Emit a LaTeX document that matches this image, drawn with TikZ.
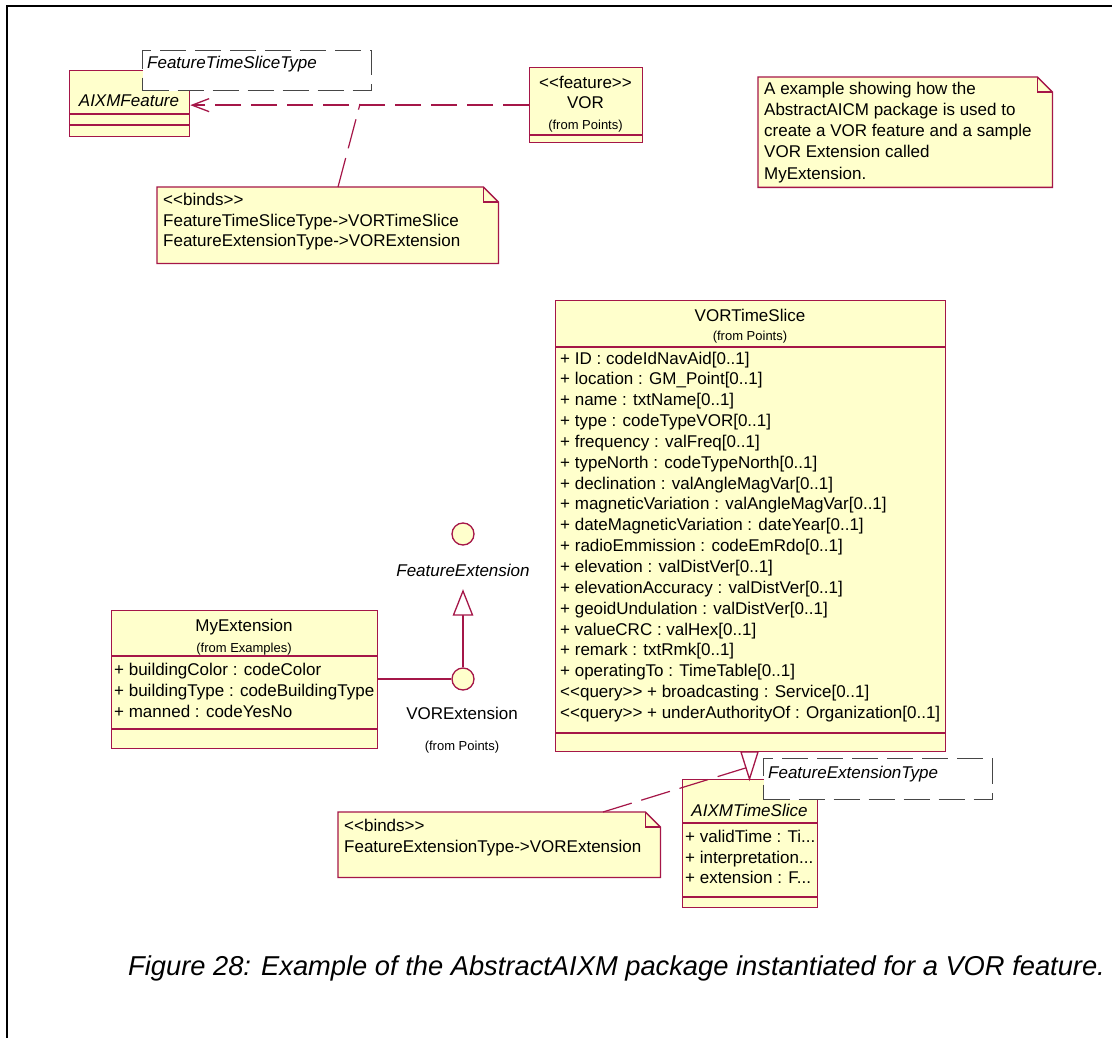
\documentclass[tikz,border=0pt]{standalone}
\usepackage{fontspec}
\newfontfamily\umlfont{Liberation Sans}
\usetikzlibrary{arrows.meta}
\definecolor{umlline}{RGB}{165,22,72}
\definecolor{umlfill}{RGB}{255,255,204}
\definecolor{tmplline}{RGB}{70,70,70}

\tikzset{
  outline/.style={draw=umlline, line width=1.3pt},
  classbox/.style={outline, fill=umlfill, inner sep=0pt, anchor=north west},
  tmplbox/.style={draw=tmplline, fill=white, line width=1.3pt, dash pattern=on 26pt off 9pt, inner sep=0pt, anchor=north west},
  lbl/.style={font=\umlfont\fontsize{17}{20}\selectfont, inner sep=0pt},
  lblit/.style={font=\umlfont\itshape\fontsize{17}{20}\selectfont, inner sep=0pt},
  tiny/.style={font=\umlfont\fontsize{13}{15}\selectfont, inner sep=0pt},
  depline/.style={draw=umlline, line width=1.3pt, dash pattern=on 26pt off 10pt},
  anchorline/.style={draw=umlline, line width=1.2pt, dash pattern=on 30pt off 10pt},
  solidline/.style={draw=umlline, line width=1.3pt},
  lollipop/.style={circle, outline, fill=umlfill, minimum size=22pt, inner sep=0pt},
}

% horizontal compartment separator across a class box
\newcommand\compline[2]{\draw[outline] (#1.west |- 0,#2) -- (#1.east |- 0,#2);}
% note with a folded corner: name, left, top, width, height
\newcommand\umlnote[5]{%
  \node[inner sep=0pt, minimum width=#4pt, minimum height=#5pt, anchor=north west] (#1) at (#2,#3) {};
  \draw[outline, fill=umlfill] (#1.north west) -- ([xshift=-15pt]#1.north east)
    -- ([yshift=-15pt]#1.north east) -- (#1.south east) -- (#1.south west) -- cycle;
  \draw[outline] ([xshift=-15pt]#1.north east) |- ([yshift=-15pt]#1.north east);
}

\begin{document}
\begin{tikzpicture}[x=1pt, y=-1pt]
\useasboundingbox (0,0) rectangle (1112,1038);
\fill[white] (0,0) rectangle (1112,1038);

% frame
\draw[line width=2.5pt] (7,1040) -- (7,6) -- (1114,6);

% ---------- AIXMFeature with template parameter ----------
\node[classbox, minimum width=120pt, minimum height=66pt] (aixmf) at (69,70) {};
\compline{aixmf}{114}
\compline{aixmf}{125}
\node[lblit, anchor=base] (aixmfname) at (129,107) {AIXMFeature};
\node[tmplbox, minimum width=229pt, minimum height=40pt] (ftst) at (142,50) {};
\node[lblit, anchor=base west] (ftstname) at (147,69) {FeatureTimeSliceType};

% ---------- VOR ----------
\node[classbox, minimum width=113pt, minimum height=75pt] (vor) at (529,67) {};
\compline{vor}{135}
\node[lbl, anchor=base] (vorst) at (585.5,89) {<\kern0pt<feature>\kern0pt>};
\node[lbl, anchor=base] (vorname) at (585.5,109) {VOR};
\node[tiny, anchor=base] (vorfrom) at (585.5,130) {(from Points)};

% binding dependency
\draw[depline, -{Straight Barb[length=17pt, width=13pt, line width=1.3pt]}] (vor.west) -- (aixmf.east |- vor.west);
\coordinate (depmid) at (360,104);

% ---------- note: binds (top) ----------
\umlnote{bindsA}{157}{187}{341}{76}
\node[lbl, anchor=base west] at (163,206) {<\kern0pt<binds>\kern0pt>};
\node[lbl, anchor=base west] at (163,226) {FeatureTimeSliceType->VORTimeSlice};
\node[lbl, anchor=base west] at (163,246) {FeatureExtensionType->VORExtension};
\coordinate (bindsAtop) at (338,187);
\draw[anchorline] (bindsAtop) -- (depmid);

% ---------- note: description ----------
\umlnote{descr}{758}{77}{294}{110}
\foreach \t [count=\i from 0] in {{A example showing how the},{AbstractAICM package is used to},{create a VOR feature and a sample},{VOR Extension called},{MyExtension.}}
  \node[lbl, anchor=base west] at (764,{95+21*\i}) {\t};

% ---------- VORTimeSlice ----------
\node[classbox, minimum width=390pt, minimum height=451pt] (vts) at (555,300) {};
\compline{vts}{347}
\compline{vts}{733}
\node[lbl, anchor=base] (vtsname) at (750,321) {VORTimeSlice};
\node[tiny, anchor=base] (vtsfrom) at (750,340) {(from Points)};
\foreach \t [count=\i from 0] in {
  {+ ID : codeIdNavAid[0..1]},
  {+ location : GM\_Point[0..1]},
  {+ name : txtName[0..1]},
  {+ type : codeTypeVOR[0..1]},
  {+ frequency : valFreq[0..1]},
  {+ typeNorth : codeTypeNorth[0..1]},
  {+ declination : valAngleMagVar[0..1]},
  {+ magneticVariation : valAngleMagVar[0..1]},
  {+ dateMagneticVariation : dateYear[0..1]},
  {+ radioEmmission : codeEmRdo[0..1]},
  {+ elevation : valDistVer[0..1]},
  {+ elevationAccuracy : valDistVer[0..1]},
  {+ geoidUndulation : valDistVer[0..1]},
  {+ valueCRC : valHex[0..1]},
  {+ remark : txtRmk[0..1]},
  {+ operatingTo : TimeTable[0..1]},
  {<\kern0pt<query>\kern0pt> + broadcasting : Service[0..1]},
  {<\kern0pt<query>\kern0pt> + underAuthorityOf : Organization[0..1]}}
  \node[lbl, anchor=base west] at (560,{364+20.85*\i}) {\t};

% ---------- interfaces ----------
\node[lollipop] (fext) at (463,534) {};
\node[lblit, anchor=base] (fextname) at (463,576) {FeatureExtension};
\node[lollipop] (vext) at (463,679) {};
\node[lbl, anchor=base] (vextname) at (462,719) {VORExtension};
\node[tiny, anchor=base] (vextfrom) at (462,750) {(from Points)};
\coordinate (gapex) at (463,591);
\coordinate (gbase) at (463,615);
\draw[solidline] (vext.north) -- (gbase);
\draw[outline, fill=white] (gapex) -- ([xshift=-9.5pt]gbase) -- ([xshift=9.5pt]gbase) -- cycle;

% ---------- MyExtension ----------
\node[classbox, minimum width=266pt, minimum height=138pt] (myext) at (111,610) {};
\compline{myext}{656}
\compline{myext}{729}
\node[lbl, anchor=base] (myextname) at (244,631) {MyExtension};
\node[tiny, anchor=base] (myextfrom) at (244,652) {(from Examples)};
\node[lbl, anchor=base west] at (114,675) {+ buildingColor : codeColor};
\node[lbl, anchor=base west] at (114,696) {+ buildingType : codeBuildingType};
\node[lbl, anchor=base west] at (114,717) {+ manned : codeYesNo};
\draw[solidline] (myext.east |- vext.west) -- (vext.west);

% ---------- AIXMTimeSlice with template parameter ----------
\node[classbox, minimum width=135pt, minimum height=128pt] (aixmts) at (682,779) {};
\compline{aixmts}{823}
\compline{aixmts}{897}
\node[lblit, anchor=base] (aixmtsname) at (749.5,816) {AIXMTimeSlice};
\node[lbl, anchor=base west] at (685,842) {+ validTime : Ti...};
\node[lbl, anchor=base west] at (685,863) {+ interpretation...};
\node[lbl, anchor=base west] at (685,883) {+ extension : F...};
% binding VORTimeSlice -> AIXMTimeSlice
\coordinate (rbase) at (749.5,752);
\coordinate (rmid) at (752,766);
\draw[outline, fill=white] ([xshift=-8.5pt]rbase) -- ([xshift=8.5pt]rbase) -- (aixmts.north -| rbase) -- cycle;
\node[tmplbox, minimum width=229pt, minimum height=41pt] (fet) at (763,758) {};
\node[lblit, anchor=base west] (fetname) at (768,778) {FeatureExtensionType};

% ---------- note: binds (bottom) ----------
\umlnote{bindsB}{338}{812}{322}{65}
\node[lbl, anchor=base west] at (344,831) {<\kern0pt<binds>\kern0pt>};
\node[lbl, anchor=base west] at (344,852) {FeatureExtensionType->VORExtension};
\coordinate (bindsBtop) at (603,812);
\draw[anchorline] (bindsBtop) -- (rmid);

% ---------- caption ----------
\node[font=\umlfont\itshape\fontsize{27.3}{30}\selectfont, inner sep=0pt, anchor=base west] (caption) at (128,975)
  {Figure 28: Example of the AbstractAIXM package instantiated for a VOR feature.};
\end{tikzpicture}
\end{document}
